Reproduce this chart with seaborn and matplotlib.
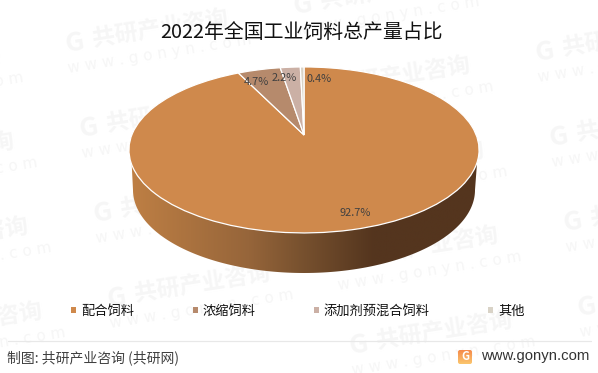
import numpy as np
import matplotlib
matplotlib.use("Agg")
import matplotlib.pyplot as plt
import seaborn as sns
from matplotlib.colors import LinearSegmentedColormap
from matplotlib.patches import Rectangle, Polygon, FancyBboxPatch
from matplotlib.transforms import Transform

# ---------- data ----------
categories = ["配合饲料", "浓缩饲料", "添加剂预混合饲料", "其他"]
shares = [92.7, 4.7, 2.2, 0.4]
colors = ["#CF894C", "#B68A6C", "#CBB0A5", "#D9D3C7"]
title = "2022年全国工业饲料总产量占比"
source = "制图: 共研产业咨询 (共研网)"
site = "www.gonyn.com"
label_xy = [(355, 213), (256, 82), (284, 78), (319, 79)]

sns.set_theme(style="white")
plt.rcParams["font.family"] = ["Noto Sans CJK SC", "DejaVu Sans"]
palette = sns.color_palette(colors)

W, H = 598, 373
fig = plt.figure(figsize=(W / 100, H / 100), dpi=100, facecolor="white")
ax = fig.add_axes([0, 0, 1, 1])


class Perspective(Transform):
    """Tilted-disc projection of the unit pie into pixel coordinates."""
    input_dims = output_dims = 2
    is_separable = False
    has_inverse = False

    def __init__(self, cx, cy, c, a, k):
        super().__init__()
        self.p = (cx, cy, c, a, k)

    def transform_non_affine(self, xy):
        cx, cy, c, a, k = self.p
        xy = np.asarray(xy, float)
        w = 1 + k * xy[:, 1]
        return np.column_stack([cx + c * xy[:, 0] / w, cy - a * xy[:, 1] / w])


wedges, _ = ax.pie(shares, colors=palette, startangle=90, counterclock=False,
                   radius=1, wedgeprops=dict(edgecolor="white", linewidth=0.9, zorder=5))
ax.set_aspect("auto")
ax.set_xlim(0, W)
ax.set_ylim(H, 0)
ax.set_axis_off()
persp = Perspective(304, 135, 172.2, 80.3, 0.18)
for w in wedges:
    w.set_transform(persp + ax.transData)

# ---------- rim ----------
grad = LinearSegmentedColormap.from_list(
    "rim", [(0, "#BE7F44"), (0.34, "#96653A"), (0.5, "#76502E"),
            (0.70, "#54351E"), (1, "#54351E")])
cx, cy, rx, ry = 304, 190, 171, 83
t = np.linspace(np.pi, 0, 200)
arc = np.column_stack([cx + rx * np.cos(t), cy + ry * np.sin(t)])
outline = np.vstack([[(131, 150)], arc, [(478, 150)]])
clip = Polygon(outline, closed=True, transform=ax.transData, facecolor="none", edgecolor="none")
ax.add_patch(clip)
im = ax.imshow(np.linspace(0, 1, 256)[None, :], cmap=grad, extent=(131, 478, 280, 140),
               aspect="auto", zorder=3)
im.set_clip_path(clip)

# ---------- watermark ----------
wm = "#F6F6F6"
ang = np.deg2rad(9)
for i in range(-2, 4):
    for j in range(-2, 7):
        x = 65 + 228 * i + 14 * j
        y = 45 - 38 * i + 85 * j
        if -170 < x < W - 10 and -5 < y < H + 10:
            ax.text(x, y, "G", color=wm, fontsize=19, fontweight="bold", rotation=9,
                    rotation_mode="anchor", ha="left", va="center", zorder=1)
            ax.text(x + 28 * np.cos(ang), y - 28 * np.sin(ang), "共研产业咨询", color=wm, fontsize=16.5,
                    fontweight="bold", rotation=9, rotation_mode="anchor",
                    ha="left", va="center", zorder=1)
            ax.text(x + 3, y + 24, "w w w . g o n y n . c o m", color=wm, fontsize=11,
                    family="DejaVu Sans", rotation=9, rotation_mode="anchor",
                    ha="left", va="center", zorder=1)

# ---------- text ----------
ax.text(301.5, 33, title, ha="center", va="center", fontsize=14.3, color="#111111", zorder=6)
for v, (x, y) in zip(shares, label_xy):
    ax.text(x, y, f"{v}%", ha="center", va="center", fontsize=7.9, color="#404040", zorder=6)

handles = [Rectangle((0, 0), 1, 1, facecolor=c, edgecolor="none") for c in palette]
ax.legend(handles, categories, loc="center", bbox_to_anchor=(298, 311),
          bbox_transform=ax.transData, ncol=4, frameon=False, fontsize=9.5,
          handlelength=0.38, handleheight=0.38, handletextpad=0.35,
          columnspacing=4.45, borderpad=0, labelcolor="#111111")

ax.plot([8, 591], [341, 341], color="#E8E8E8", lw=0.9, zorder=4)
ax.text(7, 358, source, ha="left", va="center", fontsize=10, color="#404040", zorder=6)
ax.text(481, 356, site, ha="left", va="center", fontsize=10.7, color="#333333",
        family="Liberation Sans", zorder=6)

# ---------- logo ----------
box = FancyBboxPatch((458, 350), 14, 14, boxstyle="round,pad=0,rounding_size=2",
                     transform=ax.transData, facecolor="none", edgecolor="none")
ax.add_patch(box)
logo_cmap = LinearSegmentedColormap.from_list("logo", ["#F58A4A", "#FBC66E"])
lg = ax.imshow(np.linspace(0, 1, 64)[:, None], cmap=logo_cmap, extent=(458, 472, 364, 350),
               aspect="auto", zorder=5)
lg.set_clip_path(box)
ax.text(465, 357, "G", color="white", fontsize=8, fontweight="bold",
        ha="center", va="center", zorder=6)
ax.set_xlim(0, W)
ax.set_ylim(H, 0)

fig.savefig("out.png", dpi=100, facecolor="white")
